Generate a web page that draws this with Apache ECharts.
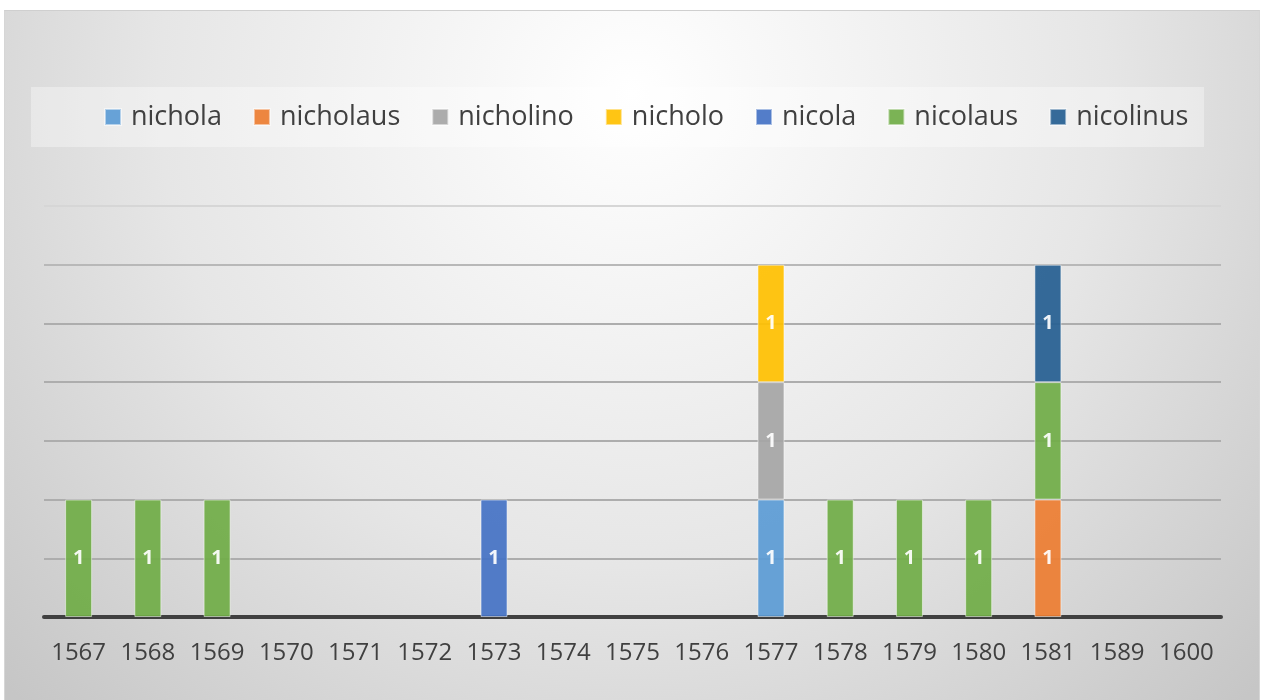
<!DOCTYPE html>
<html>
<head>
<meta charset="utf-8">
<script src="https://cdn.jsdelivr.net/npm/echarts@6/dist/echarts.min.js"></script>
<style>
html,body{margin:0;padding:0;background:#ffffff;width:1267px;height:700px;overflow:hidden;}
#chart{position:absolute;left:4px;top:10px;width:1256px;height:690px;border-top:1px solid #cfcfcf;border-left:1px solid #d6d6d6;border-right:1px solid #d6d6d6;box-sizing:border-box;}
</style>
</head>
<body>
<div id="chart"></div>
<script>
var categories = ['1567','1568','1569','1570','1571','1572','1573','1574','1575','1576','1577','1578','1579','1580','1581','1589','1600'];
var seriesNames = ['nichola','nicholaus','nicholino','nicholo','nicola','nicolaus','nicolinus'];
var nichola   = [null,null,null,null,null,null,null,null,null,null,1,null,null,null,null,null,null];
var nicholaus = [null,null,null,null,null,null,null,null,null,null,null,null,null,null,1,null,null];
var nicholino = [null,null,null,null,null,null,null,null,null,null,1,null,null,null,null,null,null];
var nicholo   = [null,null,null,null,null,null,null,null,null,null,1,null,null,null,null,null,null];
var nicola    = [null,null,null,null,null,null,1,null,null,null,null,null,null,null,null,null,null];
var nicolaus  = [1,1,1,null,null,null,null,null,null,null,null,1,1,1,1,null,null];
var nicolinus = [null,null,null,null,null,null,null,null,null,null,null,null,null,null,1,null,null];
var seriesValues = [nichola,nicholaus,nicholino,nicholo,nicola,nicolaus,nicolinus];
var colors = ['#5B9BD5','#ED7D31','#A5A5A5','#FFC000','#4472C4','#70AD47','#255E91'];

var chart = echarts.init(document.getElementById('chart'), null, {renderer:'canvas'});
var series = seriesNames.map(function(name, i){
  return {
    name: name,
    type: 'bar',
    stack: 'total',
    data: seriesValues[i],
    barWidth: 27,
    itemStyle: {color: colors[i], opacity: 0.92, borderColor: 'rgba(255,255,255,0.55)', borderWidth: 1},
    label: {show: true, position: 'inside', color: '#ffffff', fontFamily: 'Open Sans', fontWeight: 'bold', fontSize: 20},
    emphasis: {disabled: true}
  };
});
chart.setOption({
  animation: false,
  backgroundColor: {type:'radial', x:0.5, y:0.12, r:1.25, colorStops:[{offset:0,color:'#ffffff'},{offset:0.55,color:'#e6e6e6'},{offset:1,color:'#c6c6c6'}]},
  color: colors,
  graphic: [{type:'rect', left: 26, top: 76, shape:{width:1173, height:60}, style:{fill:'rgba(255,255,255,0.35)'}, z: 0, silent: true}],
  legend: {
    data: seriesNames,
    left: 99, top: 91,
    padding: 0,
    itemGap: 31,
    itemWidth: 16, itemHeight: 16,
    icon: 'rect',
    textStyle: {fontFamily: 'Open Sans', fontSize: 27, color: '#404040', padding: [0,0,0,5], lineHeight: 30}
  },
  grid: {left: 39, right: 38, top: 195, bottom: 83, containLabel: false},
  xAxis: {
    type: 'category', data: categories,
    axisLine: {show: true, lineStyle: {color: '#404040', width: 4}},
    axisTick: {show: false},
    axisLabel: {fontFamily: 'Open Sans', fontSize: 24, color: '#404040', margin: 24, interval: 0}
  },
  yAxis: {
    type: 'value', min: 0, max: 3.5, interval: 0.5,
    axisLabel: {show: false}, axisLine: {show: false}, axisTick: {show: false},
    splitLine: {show: true, lineStyle: {color: ['#adadad','#adadad','#adadad','#adadad','#adadad','#adadad','#b8b8b8','#d6d6d6'], width: 2}}
  },
  series: series
});
</script>
</body>
</html>
